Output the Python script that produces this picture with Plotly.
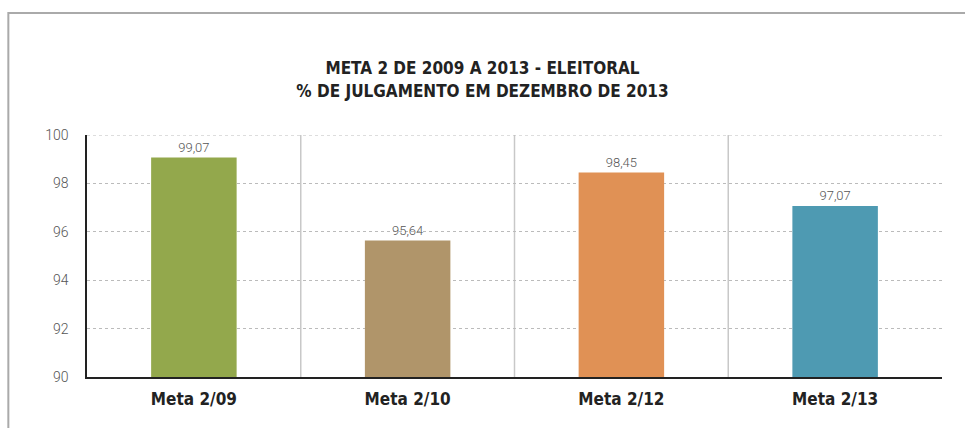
import plotly.graph_objects as go

categories = ["Meta 2/09", "Meta 2/10", "Meta 2/12", "Meta 2/13"]
values = [99.07, 95.64, 98.45, 97.07]
colors = ["#93A84C", "#B0956A", "#E09155", "#4E9AB2"]
y_ticks = [90, 92, 94, 96, 98, 100]
title_lines = ["META 2 DE 2009 A 2013 - ELEITORAL", "% DE JULGAMENTO EM DEZEMBRO DE 2013"]

labels = [f"{v:.2f}".replace(".", ",") for v in values]
COND = "DejaVu Sans Condensed, Liberation Sans Narrow, Roboto, sans-serif"

fig = go.Figure()
fig.add_trace(go.Bar(
    x=categories, y=values,
    marker=dict(color=colors, line=dict(width=0)),
    width=0.4,
    text=labels, textposition="outside",
    textfont=dict(family="Roboto", size=13, color="#555555", weight=300),
    cliponaxis=False,
    hoverinfo="skip",
))

shapes = []
for i in range(1, len(categories)):
    shapes.append(dict(type="line", xref="x", yref="paper", x0=i - 0.5, x1=i - 0.5, y0=0, y1=1,
                       line=dict(color="#c8c8c8", width=1.5), layer="below"))
# top gridline (at the range edge)
shapes.append(dict(type="line", xref="paper", yref="y", x0=0, x1=1, y0=y_ticks[-1], y1=y_ticks[-1],
                   line=dict(color="#bbbbbb", width=1, dash="3px,3px"), layer="below"))
shapes.append(dict(type="rect", xref="paper", yref="paper", x0=-0.092, x1=1.2, y0=-0.4, y1=1.504,
                   line=dict(color="#aaaaaa", width=2), layer="below"))

fig.update_layout(
    width=965, height=428,
    margin=dict(l=87, r=23, t=135, b=51),
    paper_bgcolor="white", plot_bgcolor="white",
    showlegend=False,
    title=dict(text="<br>".join(title_lines), x=0.5, xanchor="center", y=0.826, yanchor="top",
               font=dict(family=COND, size=17, color="#222222", weight="bold")),
    bargap=0.6,
    shapes=shapes,
    xaxis=dict(
        showgrid=False, showline=True, linecolor="#222222", linewidth=1.5,
        tickfont=dict(family=COND, size=17, color="#222222", weight="bold"),
        ticks="", ticklabelstandoff=6, fixedrange=True,
    ),
    yaxis=dict(
        range=[90, 100], tickvals=y_ticks, ticktext=[str(t) for t in y_ticks],
        showgrid=True, gridcolor="#bbbbbb", griddash="3px,3px", gridwidth=1,
        showline=True, linecolor="#222222", linewidth=1.5,
        tickfont=dict(family="Roboto", size=14, color="#555555", weight=300),
        ticks="", ticklabelstandoff=14, zeroline=False, fixedrange=True,
    ),
)

fig.write_html("out.html", config={"displayModeBar": False},
               post_script="document.body.style.margin='0';document.body.style.overflow='hidden';")
